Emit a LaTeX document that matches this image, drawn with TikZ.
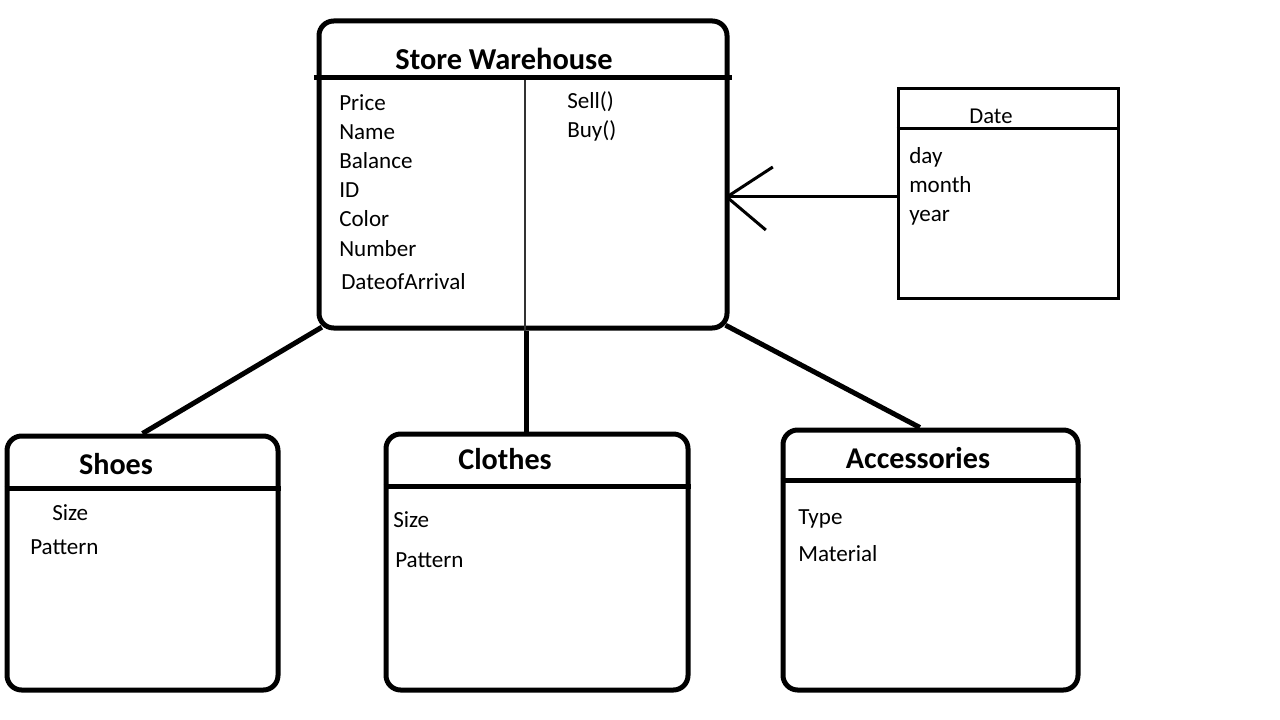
\documentclass[tikz,border=0pt]{standalone}
\usepackage{fontspec}
\setmainfont{Carlito}
\begin{document}
\begin{tikzpicture}[x=0.75pt,y=-0.75pt,
  cls/.style={draw, line width=3.75pt, rounded corners=11pt, inner sep=0pt},
  datebox/.style={draw, line width=2.25pt, inner sep=0pt},
  hdr/.style={line width=3.75pt},
  conn/.style={line width=3.75pt},
  attr/.style={anchor=west, inner sep=0pt, yshift=-3.75pt, text height=0.6em, text depth=0pt, font=\fontsize{17.3}{20}\selectfont},
  ttl/.style={inner sep=0pt, yshift=-5pt, text height=0.6em, text depth=0pt, font=\fontsize{22.6}{26}\selectfont\bfseries}]
\useasboundingbox (0,0) rectangle (1280,720);
% boxes
\node[cls, minimum width=306pt, minimum height=230.25pt] (sw) at (523,174.5) {};
\node[datebox, minimum width=165pt, minimum height=156.75pt] (dt) at (1008,193.5) {};
\node[cls, minimum width=203.25pt, minimum height=190.5pt] (sh) at (142.5,563) {};
\node[cls, minimum width=226.5pt, minimum height=192pt] (cl) at (537,562) {};
\node[cls, minimum width=221.25pt, minimum height=195pt] (ac) at (930.5,560) {};
% header lines
\draw[hdr] ([xshift=-2pt]sw.west |- 0,78) -- ([xshift=2pt]sw.east |- 0,78);
\draw[line width=2.25pt] (dt.west |- 0,129) -- (dt.east |- 0,129);
\draw[hdr] (sh.west |- 0,488) -- (sh.east |- 0,488);
\draw[hdr] (cl.west |- 0,486) -- (cl.east |- 0,486);
\draw[hdr] (ac.west |- 0,480) -- (ac.east |- 0,480);
% divider
\draw[line width=1pt, black!80] ([xshift=1.5pt]sw.south) -- ([xshift=1.5pt]sw.south |- 0,80);
% titles
\node[ttl, font=\fontsize{22.8}{26}\selectfont\bfseries] (swt) at (504,59) {Store Warehouse};
\node[attr, anchor=center, font=\fontsize{17}{20}\selectfont] (dtt) at (991,115) {Date};
\node[ttl] (sht) at (116,464) {Shoes};
\node[ttl] (clt) at (505,459) {Clothes};
\node[ttl] (act) at (918,458) {Accessories};
% attributes
\node[attr] (a1) at (339,102) {Price};
\node[attr] (a2) at (339,131) {Name};
\node[attr] (a3) at (339,160) {Balance};
\node[attr] (a4) at (339,189) {ID};
\node[attr] (a5) at (339,218) {Color};
\node[attr] (a6) at (339,247) {Number};
\node[attr] (a7) at (341,280) {DateofArrival};
\node[attr] (m1) at (567,100) {Sell()};
\node[attr] (m2) at (567,129) {Buy()};
\node[attr] (d1) at (909,155) {day};
\node[attr] (d2) at (909,184) {month};
\node[attr] (d3) at (909,213) {year};
\node[attr] (s1) at (52,511) {Size};
\node[attr] (s2) at (30,545) {Pattern};
\node[attr] (c1) at (393,518) {Size};
\node[attr] (c2) at (395,558) {Pattern};
\node[attr] (t1) at (798,515) {Type};
\node[attr] (t2) at (798,552) {Material};
% connectors
\draw[conn] ([xshift=4pt,yshift=2.5pt]sw.south west) -- (sh.north);
\draw[conn] ([xshift=2.3pt]sw.south) -- ([xshift=2.3pt]sw.south |- cl.north);
\draw[conn] ([xshift=-3pt,yshift=4pt]sw.south east) -- ([xshift=-8pt]ac.north);
% dependency arrow
\coordinate (tip) at ([xshift=-2pt]sw.east |- 0,197);
\draw[line width=2.25pt] (dt.west |- tip) -- (tip);
\draw[line width=2.25pt] (tip) -- ++(46,-30);
\draw[line width=2.25pt] (tip) -- ++(39,33);
\end{tikzpicture}
\end{document}
